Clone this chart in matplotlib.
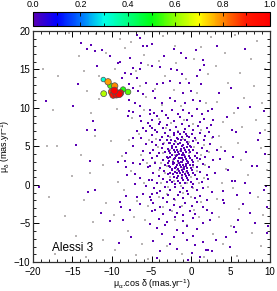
import numpy as np
import matplotlib.pyplot as plt
from matplotlib.colors import LinearSegmentedColormap
from matplotlib.ticker import MultipleLocator

# stars with membership ~0 (purple dots)
halo_left = [
    (-13.9, 18.5), (-12.6, 18.2), (-13.2, 17.6), (-12.2, 17.4), (-11.3, 17.5), (-10.2, 16.7),
    (-8.95, 16.0), (-9.2, 15.9), (-7.7, 16.5), (-6.9, 19.5), (-6.5, 19.1), (-6.1, 18.1),
    (-5.6, 18.1), (-6.3, 15.9), (-11.9, 15.5), (-8.7, 13.9), (-7.3, 15.2), (-6.5, 15.0),
    (-8.4, 14.6), (-7.6, 14.4), (-6.9, 13.9), (-5.65, 13.3), (-14.3, 13.1), (-7.8, 13.1),
    (-7.3, 12.6), (-6.7, 12.2), (-6.1, 11.8), (-18.4, 10.9), (-14.9, 10.3), (-7.8, 11.1),
    (-7.1, 10.7), (-6.5, 10.3), (-7.8, 9.6), (-7.3, 9.5), (-5.2, 9.2), (-6.5, 9.0),
    (-12.4, 8.3), (-8.0, 9.0), (-6.3, 8.3), (-5.4, 8.1), (-5.0, 7.4), (-6.1, 7.4),
    (-13.2, 7.1), (-12.1, 7.1), (-6.9, 7.0), (-5.65, 7.0), (-7.3, 6.1), (-6.3, 6.1),
    (-5.65, 5.3), (-14.5, 5.15), (-7.4, 5.0), (-8.2, 4.2), (-6.1, 4.4), (-5.2, 4.2),
    (-12.8, 3.1), (-9.2, 3.0), (-8.3, 3.1), (-7.3, 2.9), (-6.5, 2.7), (-6.1, 3.3),
    (-5.4, 2.3), (-8.2, 2.3), (-7.1, 1.4), (-8.1, 1.3), (-6.4, 0.95), (-5.3, 0.7),
    (-7.1, 0.1), (-19.2, -0.3), (-5.65, -0.1), (-13.0, -0.9), (-12.1, -0.65), (-5.0, -1.2),
    (-8.2, -1.4), (-6.9, -1.6), (-6.1, -1.2), (-9.0, -2.2), (-8.8, -2.8), (-11.35, -3.6),
    (-7.7, -3.2), (-5.1, -1.9), (-10.3, -4.7), (-8.6, -4.5), (-7.55, -6.7), (-9.1, -7.5),
    (-6.5, -2.5), (-5.0, -3.4), (-5.2, -5.1), (-11.9, 15.5), (-9.6, 12.4),
]
halo_right = [
    (-5.0, 18.3), (-2.2, 17.7), (-1.3, 17.2), (-3.4, 16.8), (-0.6, 16.5), (0.6, 17.5),
    (1.5, 16.2), (1.6, 15.6), (3.25, 18.1), (6.8, 17.6), (-3.9, 15.3), (-2.5, 15.0),
    (-1.8, 14.9), (-1.2, 14.4), (1.1, 14.9), (0.7, 14.2), (-5.0, 15.5), (-4.3, 13.1),
    (-4.8, 12.2), (-3.5, 13.2), (-2.7, 13.5), (-1.4, 13.2), (-0.3, 13.3), (-0.04, 12.2),
    (1.2, 13.1), (3.5, 11.9), (5.0, 12.6), (-4.6, 11.3), (-3.7, 10.7), (-2.7, 11.3),
    (-2.0, 10.9), (-1.0, 12.0), (-0.8, 10.7), (0.2, 11.1), (1.1, 10.9), (2.6, 9.9),
    (7.5, 10.1), (9.2, 9.6), (6.0, 9.96), (4.5, 8.8), (5.2, 7.2), (5.65, 6.9),
    (8.7, 6.8), (8.5, 5.9), (9.4, 4.0), (7.0, 4.3), (5.3, 3.6), (4.3, 4.4),
    (3.7, 3.4), (4.7, 1.9), (7.7, 2.5), (8.4, 2.5), (5.15, 0.5), (5.6, 0.5),
    (6.8, 0.2), (9.5, -0.1), (9.2, -0.7), (7.5, -1.0), (4.1, -0.8), (5.8, -1.3),
    (4.1, -1.9), (4.2, -2.3), (9.6, -2.9), (6.6, -2.5), (7.5, -3.6), (6.0, -4.5),
    (8.1, -5.0), (9.8, -5.3), (5.4, -5.5), (5.7, -6.1), (4.9, -8.1), (3.2, -7.1),
    (1.9, -8.4), (2.6, -8.6), (4.4, -6.75), (9.6, -6.2),
]
core_pts = [
    (-5.2, 9.8), (-4.7, 9.3), (-3.7, 9.6), (-3.2, 9.1), (-2.4, 9.7), (-1.6, 9.2), (-1.0, 9.8),
    (-0.2, 9.4), (0.7, 9.9), (1.4, 9.2), (2.2, 9.6),
    (-5.0, 8.5), (-4.3, 8.9), (-3.9, 8.2), (-2.9, 8.7), (-2.2, 8.3), (-1.4, 8.8), (-0.5, 8.4),
    (0.1, 8.9), (1.1, 8.2), (1.6, 8.6), (2.8, 8.4),
    (-5.2, 7.6), (-4.6, 7.2), (-4.1, 7.9), (-3.5, 7.4), (-3.1, 7.8), (-2.6, 7.1), (-1.9, 7.5),
    (-1.2, 7.9), (-0.8, 7.3), (-0.3, 7.7), (0.3, 7.2), (0.9, 7.6), (2.0, 7.4), (2.5, 7.8),
    (-4.9, 6.5), (-4.3, 6.9), (-3.7, 6.2), (-3.3, 6.7), (-2.9, 6.3), (-2.2, 6.8), (-1.8, 6.1),
    (-1.4, 6.6), (-0.9, 6.9), (-0.5, 6.3), (0.1, 6.6), (0.5, 6.1), (1.1, 6.8), (1.8, 6.4),
    (2.3, 6.9), (2.8, 6.2),
    (-5.0, 5.6), (-4.4, 5.2), (-3.9, 5.8), (-3.5, 5.3), (-3.1, 5.9), (-2.7, 5.4), (-2.4, 5.1),
    (-2.0, 5.7), (-1.6, 5.3), (-1.3, 5.8), (-0.97, 5.2), (-0.55, 5.6), (-0.1, 5.1), (0.3, 5.7),
    (0.9, 5.4), (1.6, 5.8), (2.4, 5.3),
    (-4.8, 4.6), (-4.1, 4.2), (-3.7, 4.8), (-3.3, 4.3), (-2.9, 4.7), (-2.6, 4.1), (-2.2, 4.5),
    (-1.9, 4.9), (-1.6, 4.3), (-1.3, 4.7), (-1.05, 4.1), (-0.76, 4.5), (-0.47, 4.9), (-0.13, 4.3),
    (0.3, 4.6), (0.7, 4.2), (1.35, 4.8), (2.0, 4.4), (3.25, 4.6),
    (-5.0, 3.5), (-4.35, 3.8), (-3.6, 3.2), (-3.1, 3.6), (-2.75, 3.1), (-2.45, 3.9), (-2.15, 3.4),
    (-1.9, 3.7), (-1.65, 3.15), (-1.4, 3.5), (-1.2, 3.85), (-0.97, 3.3), (-0.76, 3.6), (-0.55, 3.1),
    (-0.2, 3.7), (0.1, 3.3), (0.5, 3.8), (1.1, 3.4), (1.8, 3.6), (2.8, 3.2),
    (-5.2, 2.5), (-4.55, 2.8), (-3.9, 2.2), (-3.3, 2.6), (-2.9, 2.9), (-2.6, 2.3), (-2.3, 2.7),
    (-2.0, 2.15), (-1.75, 2.55), (-1.5, 2.9), (-1.3, 2.3), (-1.05, 2.65), (-0.85, 2.1), (-0.63, 2.45),
    (-0.34, 2.85), (-0.04, 2.2), (0.3, 2.6), (0.8, 2.3), (1.56, 2.75), (2.3, 2.4),
    (-4.8, 1.6), (-4.0, 1.2), (-3.4, 1.8), (-2.9, 1.4), (-2.45, 1.9), (-2.15, 1.1), (-1.8, 1.5),
    (-1.5, 1.85), (-1.2, 1.3), (-0.97, 1.7), (-0.63, 1.2), (-0.34, 1.6), (0.08, 1.9), (0.5, 1.35),
    (1.14, 1.7), (2.0, 1.25), (3.0, 1.6),
    (-5.0, 0.6), (-4.35, 0.2), (-3.6, 0.8), (-3.1, 0.35), (-2.6, 0.7), (-2.0, 0.15), (-1.6, 0.55),
    (-1.2, 0.9), (-0.76, 0.3), (-0.34, 0.65), (0.2, 0.1), (0.7, 0.75), (1.35, 0.4), (2.2, 0.8),
    (-4.7, -0.4), (-3.9, -0.8), (-3.3, -0.2), (-2.65, -0.65), (-2.0, -0.3), (-1.4, -0.9),
    (-0.97, -0.45), (-0.55, -0.75), (0.08, -0.2), (0.7, -0.6), (1.56, -0.35), (2.6, -0.85),
    (-5.2, -1.5), (-4.35, -1.1), (-3.5, -1.7), (-2.9, -1.25), (-2.2, -1.8), (-1.6, -1.35),
    (-0.97, -1.65), (-0.34, -1.2), (0.5, -1.75), (1.14, -1.4), (2.0, -1.9),
    (-4.8, -2.4), (-3.9, -2.8), (-3.1, -2.2), (-2.2, -2.6), (-1.4, -2.9), (-0.76, -2.3),
    (0.08, -2.7), (0.7, -2.15), (1.56, -2.85),
    (-4.55, -3.3), (-3.5, -3.8), (-2.65, -3.2), (-1.8, -3.6), (-0.97, -3.9), (-0.13, -3.4),
    (0.5, -3.75), (2.0, -3.25), (2.6, -3.7),
    (-4.1, -4.4), (-3.1, -4.8), (-2.0, -4.2), (-0.97, -4.65), (0.3, -4.3), (1.56, -4.9), (2.4, -4.5),
    (-4.35, -5.6), (-3.3, -5.2), (-1.8, -5.8), (-0.55, -5.35), (0.7, -5.7),
    (-3.7, -6.4), (-2.2, -6.8), (-1.0, -6.3), (0.3, -6.6),
    (-4.8, -7.3), (-2.65, -7.7), (-0.55, -7.2), (0.5, -7.8), (1.56, -7.4),
    (-3.9, -8.6), (-1.8, -8.3), (0.08, -8.8), (2.2, -8.5),
    (-4.35, -9.5), (-0.34, -9.7), (1.14, -9.3),
]
core_inner = [
    (-2.8, 5.5), (-2.5, 5.9), (-2.1, 5.35), (-1.7, 5.95), (-1.45, 5.5), (-1.15, 5.05), (-0.8, 5.85),
    (-0.4, 5.35), (-2.85, 4.45), (-2.4, 4.85), (-2.05, 4.25), (-1.75, 4.6), (-1.5, 4.05),
    (-1.25, 4.4), (-0.9, 4.75), (-0.6, 4.25), (-0.3, 4.6), (0.05, 4.95), (-2.95, 3.45),
    (-2.6, 3.65), (-2.3, 3.05), (-2.05, 3.55), (-1.8, 3.95), (-1.55, 3.45), (-1.3, 3.05),
    (-1.1, 3.55), (-0.85, 3.95), (-0.65, 3.4), (-0.4, 3.0), (-0.1, 3.5), (0.25, 3.05), (0.7, 3.55),
    (-2.75, 2.45), (-2.45, 2.05), (-2.15, 2.85), (-1.9, 2.4), (-1.65, 2.05), (-1.4, 2.6),
    (-1.15, 2.95), (-0.95, 2.4), (-0.7, 2.75), (-0.45, 2.25), (-0.15, 2.55), (0.2, 2.95),
    (-2.7, 1.55), (-2.3, 1.45), (-2.0, 1.75), (-1.65, 1.2), (-1.35, 1.55), (-1.1, 1.95),
    (-0.8, 1.45), (-0.5, 1.85), (-0.2, 1.25), (0.3, 1.6), (-2.4, 0.45), (-1.8, 0.85),
    (-1.4, 0.3), (-1.0, 0.6), (-0.5, 0.95), (0.0, 0.45), (-2.2, 6.45), (-1.6, 6.85),
    (-1.1, 6.2), (-0.7, 6.6), (-0.2, 6.25),
]

# faint grey dots (stars not used in the fit)
grey_pts = [
    (-15.5, 19.8), (-12.0, 19.6), (-9.0, 18.9), (-7.6, 18.6), (-14.2, 16.8), (-10.8, 17.2),
    (-8.3, 17.8), (-6.0, 16.9), (-18.7, 15.1), (-16.8, 14.2), (-13.5, 14.8), (-11.6, 14.1),
    (-9.6, 15.1), (-7.0, 14.8), (-5.5, 15.6), (-13.1, 12.2), (-11.7, 11.2), (-6.4, 12.9),
    (-5.7, 11.4), (-17.5, 9.8), (-12.6, 9.4), (-9.4, 9.9), (-7.5, 8.7), (-5.9, 9.7),
    (-18.2, 5.0), (-16.9, 5.1), (-12.2, 6.4), (-10.1, 5.7), (-7.9, 5.9), (-6.6, 6.6),
    (-5.3, 5.8), (-13.9, 3.9), (-11.1, 2.6), (-8.7, 3.7), (-6.3, 3.9), (-5.6, 2.8),
    (-15.1, 1.2), (-12.8, 1.5), (-9.3, 0.4), (-7.6, 1.8), (-6.0, 0.3), (-18.0, -1.5),
    (-13.6, -1.9), (-10.7, -2.4), (-8.5, -0.6), (-6.8, -2.1), (-5.4, -2.7), (-16.0, -4.0),
    (-12.4, -4.8), (-9.8, -3.9), (-7.2, -4.2), (-5.8, -4.6), (-14.6, -6.6), (-11.2, -7.1),
    (-8.0, -6.0), (-6.2, -7.6), (-17.2, -8.9), (-13.3, -9.3), (-9.6, -8.5), (-7.0, -9.1),
    (-5.5, -9.6),
    (-3.6, 19.4), (-0.9, 19.7), (2.5, 19.2), (5.6, 19.5), (8.4, 18.7), (-2.0, 18.1),
    (1.2, 17.9), (4.3, 17.1), (7.6, 16.3), (-4.1, 16.1), (-1.9, 15.8), (0.4, 16.3),
    (3.1, 15.4), (6.2, 14.6), (9.3, 15.1), (-3.3, 14.1), (-0.6, 13.8), (2.2, 14.4),
    (4.7, 13.3), (8.0, 12.8), (-4.5, 12.5), (-2.1, 12.3), (0.8, 11.9), (3.3, 10.8),
    (6.7, 11.3), (9.0, 10.6), (-3.7, 10.4), (-1.3, 10.3), (1.9, 10.6), (5.4, 9.4),
    (8.2, 8.5), (4.0, 8.2), (6.5, 7.5), (9.4, 7.1), (3.6, 6.3), (5.9, 5.4), (8.8, 4.8),
    (3.8, 4.9), (6.3, 3.2), (4.4, 2.1), (7.2, 1.3), (9.6, 2.0), (3.9, 0.3), (5.3, -0.4),
    (8.5, -1.5), (3.3, -1.8), (6.1, -3.1), (9.1, -3.9), (3.6, -4.1), (5.0, -5.3),
    (7.7, -6.2), (2.8, -6.4), (4.1, -7.6), (8.9, -7.9), (-3.0, -7.9), (-1.1, -8.9),
    (1.7, -9.4), (5.8, -9.2),
    (-4.0, 8.6), (-3.2, 7.4), (-2.5, 8.1), (-1.7, 7.0), (-0.9, 8.5), (0.2, 7.9), (1.3, 7.1),
    (-4.4, 6.0), (-3.4, 5.5), (-2.6, 6.2), (-1.9, 5.6), (-1.0, 6.0), (-0.3, 5.6), (0.6, 5.9),
    (1.7, 5.2), (2.6, 6.1), (-4.2, 4.9), (-3.5, 4.1), (-2.7, 4.6), (-2.0, 3.9), (-1.4, 4.4),
    (-0.8, 3.8), (-0.2, 4.1), (0.4, 4.9), (1.2, 3.9), (2.3, 4.3), (-4.6, 3.0), (-3.8, 2.9),
    (-3.0, 2.5), (-2.3, 3.3), (-1.6, 2.8), (-1.0, 2.2), (-0.4, 2.9), (0.2, 2.4), (0.9, 3.1),
    (1.8, 2.6), (-4.1, 1.9), (-3.3, 1.5), (-2.6, 1.0), (-1.8, 2.0), (-1.2, 1.2), (-0.6, 1.7),
    (0.0, 1.0), (0.8, 1.8), (1.6, 0.9), (-3.8, 0.2), (-2.9, -0.3), (-2.1, 0.5), (-1.3, -0.1),
    (-0.5, 0.2), (0.3, -0.4), (1.0, 0.3), (2.1, -0.2), (-4.1, -1.6), (-3.0, -1.2), (-2.0, -1.9),
    (-1.0, -1.0), (0.0, -1.5), (1.2, -2.2), (-3.6, -2.8), (-2.4, -3.4), (-1.2, -2.7),
    (0.4, -3.2), (-2.0, -4.5), (-0.5, -5.2), (1.0, -4.2),
]

# cluster members: proper motions and membership probability
member_pmra = [-11.1, -10.2, -11.05, -8.6, -7.97, -10.5, -9.66, -10.04, -9.85, -9.45, -9.1, -8.95, -9.7]
member_pmde = [13.7, 12.9, 11.86, 12.4, 12.08, 13.4, 12.86, 12.1, 11.7, 11.75, 11.8, 11.95, 12.25]
member_prob = [0.32, 0.55, 0.63, 0.52, 0.56, 0.78, 0.80, 0.86, 0.93, 0.97, 0.99, 0.95, 1.0]

cluster_name = "Alessi 3"

cmap = LinearSegmentedColormap.from_list("idl_rainbow", [
    (0.00, "#5a00b4"), (0.10, "#0000ff"), (0.20, "#0070ff"), (0.30, "#00ffe8"),
    (0.40, "#00ff80"), (0.50, "#00ff10"), (0.60, "#90ff00"), (0.70, "#ffff00"),
    (0.80, "#ff8800"), (0.90, "#ff1800"), (1.00, "#ff0000"),
])

plt.rcParams['font.family'] = ['Liberation Sans', 'DejaVu Sans']
plt.rcParams['mathtext.fontset'] = 'custom'
plt.rcParams['mathtext.rm'] = 'Liberation Sans'
plt.rcParams['mathtext.it'] = 'Liberation Sans'
plt.rcParams['mathtext.bf'] = 'Liberation Sans'

fig = plt.figure(figsize=(2.77, 2.91), dpi=100)
ax = fig.add_axes([0.119, 0.0997, 0.856, 0.7938])
cax = fig.add_axes([0.119, 0.912, 0.856, 0.048])

grey = np.array(grey_pts)
ax.scatter(grey[:, 0], grey[:, 1], s=0.7, marker='s', color='#b8b4b4', linewidths=0)

field = np.array(halo_left + halo_right + core_pts + core_inner)
ax.scatter(field[:, 0], field[:, 1], s=2.4, marker='s', color=cmap(0.0), linewidths=0)

order = np.argsort(member_prob)
mx = np.array(member_pmra)[order]
my = np.array(member_pmde)[order]
mp = np.array(member_prob)[order]
sizes = 4 + 22 * mp
sc = ax.scatter(mx, my, c=mp, cmap=cmap, vmin=0, vmax=1, s=sizes,
                edgecolors='#505050', linewidths=0.5, zorder=3)

ax.set_xlim(-20, 10)
ax.set_ylim(-10, 20)
ax.xaxis.set_major_locator(MultipleLocator(5))
ax.xaxis.set_minor_locator(MultipleLocator(1))
ax.yaxis.set_major_locator(MultipleLocator(5))
ax.yaxis.set_minor_locator(MultipleLocator(1))
ax.tick_params(which='both', direction='in', top=True, right=True, labelsize=7)
ax.tick_params(axis='x', pad=3.5)
ax.tick_params(axis='y', pad=2)
ax.tick_params(which='major', length=4, width=0.7)
ax.tick_params(which='minor', length=2, width=0.6)
for sp in ax.spines.values():
    sp.set_linewidth(0.9)
    sp.set_color('#303030')

ax.set_xlabel(r'$\mu_{\alpha}$.cos $\delta$ (mas.yr$^{-1}$)', fontsize=6.5, labelpad=0)
ax.set_ylabel(r'$\mu_{\delta}$ (mas.yr$^{-1}$)', fontsize=6.5, labelpad=1)
ax.text(0.08, 0.035, cluster_name, transform=ax.transAxes, fontsize=8.5,
        ha='left', va='bottom')

cb = fig.colorbar(sc, cax=cax, orientation='horizontal')
cb.set_ticks([0.0, 0.2, 0.4, 0.6, 0.8, 1.0])
cb.ax.xaxis.set_minor_locator(MultipleLocator(0.1))
cb.ax.xaxis.set_ticks_position('top')
cb.ax.xaxis.set_label_position('top')
cb.ax.tick_params(which='both', direction='in', top=True, bottom=True, labelsize=6.5,
                  pad=2, length=3, width=0.6, color='black')
cb.ax.tick_params(which='minor', length=2)
cb.outline.set_linewidth(0.8)

fig.savefig('out.png', dpi=100)
